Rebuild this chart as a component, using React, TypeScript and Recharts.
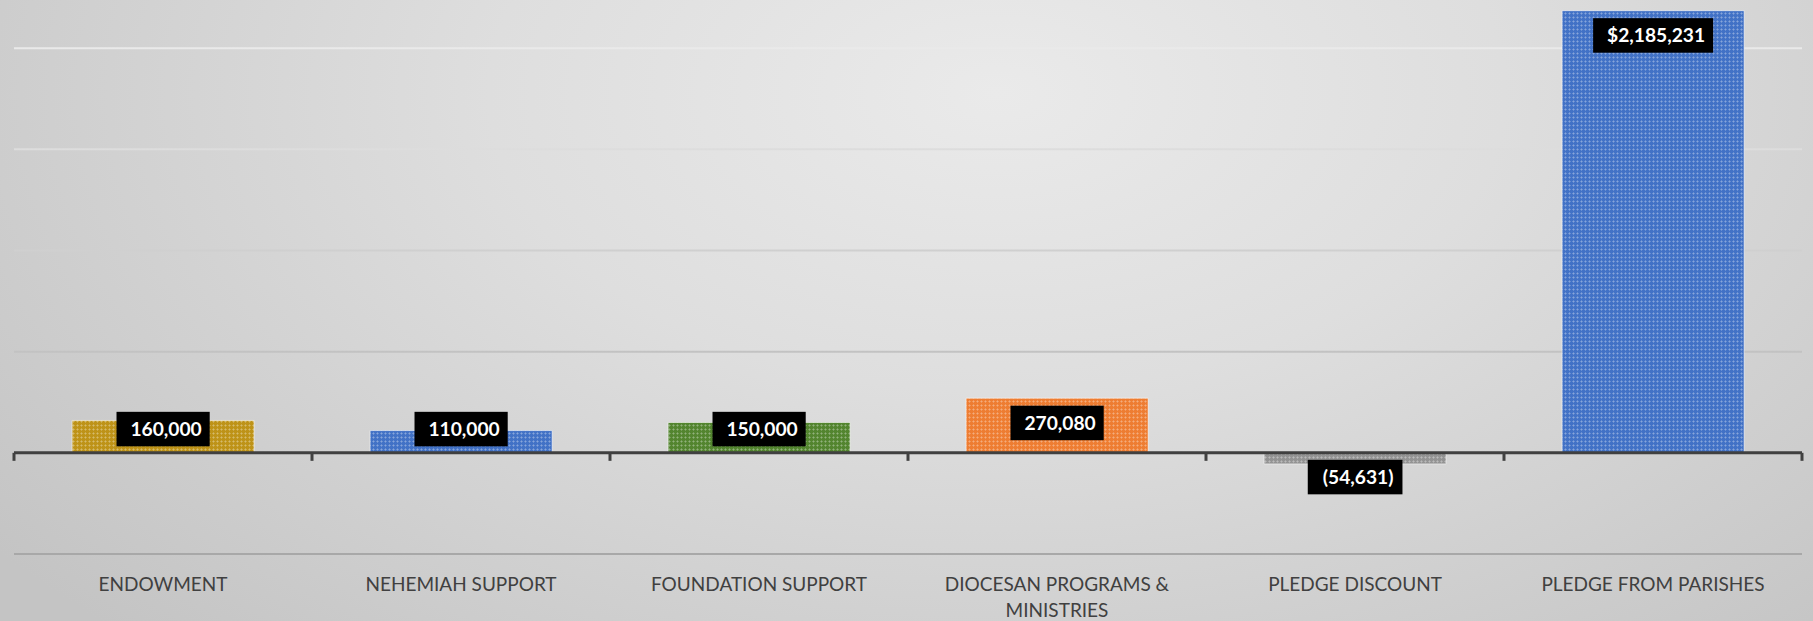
import React from "react";
import {
  BarChart,
  Bar,
  XAxis,
  YAxis,
  CartesianGrid,
  Cell,
  LabelList,
  ReferenceLine,
} from "recharts";

const categories = [
  "ENDOWMENT",
  "NEHEMIAH SUPPORT",
  "FOUNDATION SUPPORT",
  "DIOCESAN PROGRAMS & MINISTRIES",
  "PLEDGE DISCOUNT",
  "PLEDGE FROM PARISHES",
];
const amounts = [160000, 110000, 150000, 270080, -54631, 2185231];
const labelPrefixes = ["", "", "", "", "", "$"];
const yTicks = [-500000, 0, 500000, 1000000, 1500000, 2000000, 2500000];
const barColors = ["#BE9318", "#4272C6", "#53852F", "#EE7D32", "#939393", "#4272C6"];

const data = categories.map((name, i) => ({ name, value: amounts[i] }));

const W = 1813;
const H = 621;

// rough glyph widths for Lato bold at 19.2px
const charWidth = (c: string) => {
  if (c === ",") return 4.6;
  if (c === "(" || c === ")") return 6.3;
  return 11.1;
};

const formatLabel = (v: number, i: number) => {
  const s = Math.abs(v).toLocaleString("en-US");
  const t = labelPrefixes[i] + s;
  return v < 0 ? `(${t})` : t;
};

// greedy wrap, ~11.8px per uppercase char at 19px
const wrap = (s: string, maxW: number) => {
  const words = s.split(" ");
  const lines: string[] = [];
  let cur = "";
  words.forEach((w) => {
    const next = cur ? cur + " " + w : w;
    if (next.length * 11.8 > maxW && cur) {
      lines.push(cur);
      cur = w;
    } else cur = next;
  });
  if (cur) lines.push(cur);
  return lines;
};

function ValueLabel(props: any) {
  const vb = props.viewBox ?? {};
  const x = props.x ?? vb.x;
  const y = props.y ?? vb.y;
  const width = props.width ?? vb.width;
  const height = props.height ?? vb.height;
  const index = props.index ?? 0;
  const v = Number(amounts[index]);
  const top = Math.min(y, y + height);
  const bottom = Math.max(y, y + height);
  const text = formatLabel(v, index);
  const textW = text.split("").reduce((a, c) => a + charWidth(c), 0);
  const boxW = textW + 22;
  const boxH = 34.5;
  const cx = x + width / 2;
  let by: number;
  if (v >= 0) by = Math.min(top + 7.5, bottom - 6.5 - boxH);
  else by = Math.max(bottom - 7.5 - boxH, top + 7);
  return (
    <g>
      <rect x={cx - boxW / 2} y={by} width={boxW} height={boxH} fill="#000" />
      <text
        x={cx + 3}
        y={by + boxH / 2 + 7}
        textAnchor="middle"
        fill="#fff"
        fontFamily="Lato"
        fontWeight={700}
        fontSize={19.2}
      >
        {text}
      </text>
    </g>
  );
}

function CategoryTick(props: any) {
  const { x, y, payload } = props;
  const lines = wrap(String(payload.value), 285);
  return (
    <text
      x={x}
      y={y + 15}
      textAnchor="middle"
      fill="#404040"
      fontFamily="Lato"
      fontSize={19}
    >
      {lines.map((l, i) => (
        <tspan key={i} x={x} dy={i === 0 ? 13.7 : 26}>
          {l}
        </tspan>
      ))}
    </text>
  );
}

// zero axis line with Excel-style tick marks between categories
function ZeroAxis(props: any) {
  const { x1, y1, x2 } = props;
  const n = categories.length;
  const step = (x2 - x1) / n;
  const ticks = Array.from({ length: n + 1 }, (_, i) => x1 + i * step);
  return (
    <g>
      <line x1={x1} y1={y1} x2={x2} y2={y1} stroke="#404040" strokeWidth={3} />
      {ticks.map((tx, i) => (
        <line key={i} x1={tx} y1={y1} x2={tx} y2={y1 + 8} stroke="#404040" strokeWidth={3} />
      ))}
    </g>
  );
}

export default function App() {
  return (
    <div
      style={{
        position: "absolute",
        left: 0,
        top: 0,
        width: W,
        height: H,
        overflow: "hidden",
        background:
          "radial-gradient(ellipse 70% 120% at 55% 15%, #eaeaea 0%, #dedede 40%, #c4c4c4 100%)",
      }}
    >
      <BarChart
        width={W}
        height={H}
        data={data}
        margin={{ top: -53, right: 11, bottom: 0, left: 14 }}
        barCategoryGap="19.5%"
      >
        <defs>
          <linearGradient id="gridGrad" gradientUnits="userSpaceOnUse" x1={0} y1={0} x2={0} y2={600}>
            <stop offset="0%" stopColor="#f0f0f0" />
            <stop offset="100%" stopColor="#a2a2a2" />
          </linearGradient>
          {barColors.map((c, i) => (
            <pattern key={i} id={`pat-${i}`} width={4} height={4} patternUnits="userSpaceOnUse">
              <rect width={4} height={4} fill={c} />
              <rect x={1} y={0} width={1} height={3} fill="#fff" opacity={0.2} />
              <rect x={0} y={1} width={3} height={1} fill="#fff" opacity={0.2} />
            </pattern>
          ))}
        </defs>
        <CartesianGrid vertical={false} stroke="url(#gridGrad)" strokeWidth={2} />
        <XAxis
          dataKey="name"
          axisLine={false}
          tickLine={false}
          height={67}
          interval={0}
          tick={<CategoryTick />}
        />
        <YAxis hide width={0} type="number" domain={[-500000, 2500000]} ticks={yTicks} />
        <Bar dataKey="value" isAnimationActive={false} stroke="rgba(255,255,255,0.55)" strokeWidth={1}>
          {data.map((_, i) => (
            <Cell key={i} fill={`url(#pat-${i})`} />
          ))}
          <LabelList dataKey="value" content={<ValueLabel />} />
        </Bar>
        <ReferenceLine y={0} shape={(p: any) => <ZeroAxis {...p} />} />
      </BarChart>
    </div>
  );
}
